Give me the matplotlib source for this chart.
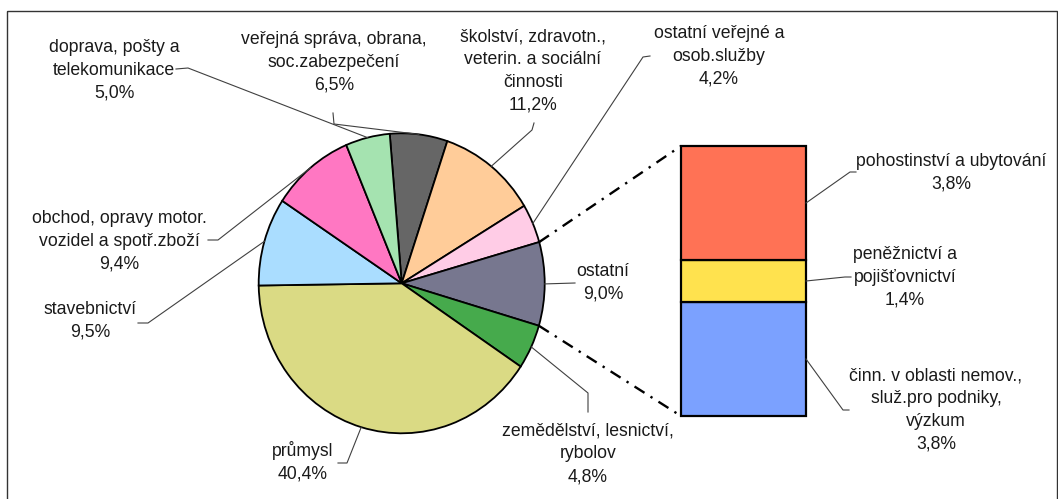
import numpy as np
import matplotlib
matplotlib.use('Agg')
import matplotlib.pyplot as plt
from matplotlib.patches import Rectangle

plt.rcParams['font.family'] = ['Liberation Sans', 'DejaVu Sans']

# pie data (clockwise from top)
sectors = ['veřejná správa, obrana,\nsoc.zabezpečení',
           'školství, zdravotn.,\nveterin. a sociální\nčinnosti',
           'ostatní veřejné a\nosob.služby',
           'ostatní',
           'zemědělství, lesnictví,\nrybolov',
           'průmysl',
           'stavebnictví',
           'obchod, opravy motor.\nvozidel a spotř.zboží',
           'doprava, pošty a\ntelekomunikace']
shares = [6.5, 11.2, 4.2, 9.0, 4.8, 40.4, 9.5, 9.4, 5.0]
pie_colors = ['#666666', '#FFCC99', '#FFCCE6', '#77778F', '#46AA4C',
              '#DADA84', '#AADDFF', '#FF77C2', '#A5E3B0']

# breakdown of "ostatní" (bottom to top)
sub_sectors = ['činn. v oblasti nemov.,\nslu\u017e.pro podniky,\nvýzkum',
               'peněžnictví a\npojišťovnictví',
               'pohostinství a ubytování']
sub_shares = [3.8, 1.4, 3.8]
sub_colors = ['#7BA1FF', '#FFE24E', '#FF7255']


def fmt(v):
    return f'{v:.1f}%'.replace('.', ',')


W, H = 1058, 499
fig = plt.figure(figsize=(W / 100, H / 100), dpi=100)


def px_axes(l, t, r, b):
    return fig.add_axes([l / W, 1 - b / H, (r - l) / W, (b - t) / H])


# pie geometry in pixels
cx, cy, rx, ry = 401.7, 283.3, 143, 150
pax = px_axes(cx - rx, cy - ry, cx + rx, cy + ry)
wedges, _ = pax.pie(shares, colors=pie_colors, startangle=94.8, counterclock=False,
                    radius=1, wedgeprops=dict(edgecolor='black', linewidth=1.3))
for w in wedges:
    w.set_clip_on(False)
pax.set_aspect('auto')
pax.set_xlim(-1, 1)
pax.set_ylim(-1, 1)
pax.axis('off')

# stacked bar
bl, bt, br, bb = 681, 146, 806, 416
bax = px_axes(bl, bt, br, bb)
bottoms = np.concatenate([[0], np.cumsum(sub_shares)[:-1]])
bax.bar([0] * len(sub_shares), sub_shares, bottom=bottoms, width=1,
        color=sub_colors, edgecolor='black', linewidth=1.6, clip_on=False)
bax.set_xlim(-0.5, 0.5)
bax.set_ylim(0, sum(sub_shares))
bax.axis('off')

# overlay in pixel coordinates
ov = fig.add_axes([0, 0, 1, 1], zorder=5)
ov.set_xlim(0, W)
ov.set_ylim(H, 0)
ov.axis('off')
ov.patch.set_alpha(0)

ov.add_patch(Rectangle((7, 11), 1049.5, 520, fill=False, edgecolor='#333333',
                       linewidth=1.0, clip_on=False))


def edge(theta):
    t = np.deg2rad(theta)
    return cx + rx * np.cos(t), cy - ry * np.sin(t)


fs = 12.7
ls = 1.45
pie_text_pos = [(334, 62), (533, 71), (719, 56), (603, 283), (588, 454),
                (303, 462), (90, 321), (119, 241), (114, 70)]
pie_leaders = [[(333, 113), (334, 124)], [(534, 123), (532, 130)],
               [(650, 56), (643, 57)], [(575, 283)], [(588, 412), (588, 393)],
               [(338, 463), (347, 463)], [(138, 323), (148, 323)],
               [(208, 240), (218, 240)], [(176, 69), (188, 68)]]

for w, name, v, (tx, ty), lead in zip(wedges, sectors, shares, pie_text_pos, pie_leaders):
    ov.text(tx, ty, name + '\n' + fmt(v), ha='center', va='center', fontsize=fs,
            linespacing=ls, color='#1a1a1a')
    ex, ey = edge((w.theta1 + w.theta2) / 2)
    pts = lead + [(ex, ey)]
    ov.plot([p[0] for p in pts], [p[1] for p in pts], color='#404040', lw=0.8)

sub_text_pos = [(936, 410), (905, 277), (951, 173)]
sub_leaders = [[(843, 410), (849, 410)], [(845, 277), (851, 277)],
               [(850, 172), (856, 172)]]
cum = np.cumsum(sub_shares)
for name, v, (tx, ty), lead, top in zip(sub_sectors, sub_shares, sub_text_pos, sub_leaders, cum):
    ov.text(tx, ty, name + '\n' + fmt(v), ha='center', va='center', fontsize=fs,
            linespacing=ls, color='#1a1a1a')
    ymid = bb - (top - v / 2) / sum(sub_shares) * (bb - bt)
    pts = [(br, ymid)] + lead
    ov.plot([p[0] for p in pts], [p[1] for p in pts], color='#404040', lw=0.8)

# dash-dot connectors from "ostatní" wedge to the bar
ost = wedges[3]
for ang, yb in [(ost.theta2, bt), (ost.theta1, bb)]:
    ex, ey = edge(ang)
    ov.plot([ex, bl], [ey, yb], color='black', lw=1.7,
            linestyle=(0, (5, 3, 1, 3)))

fig.savefig('out.png', dpi=100)
